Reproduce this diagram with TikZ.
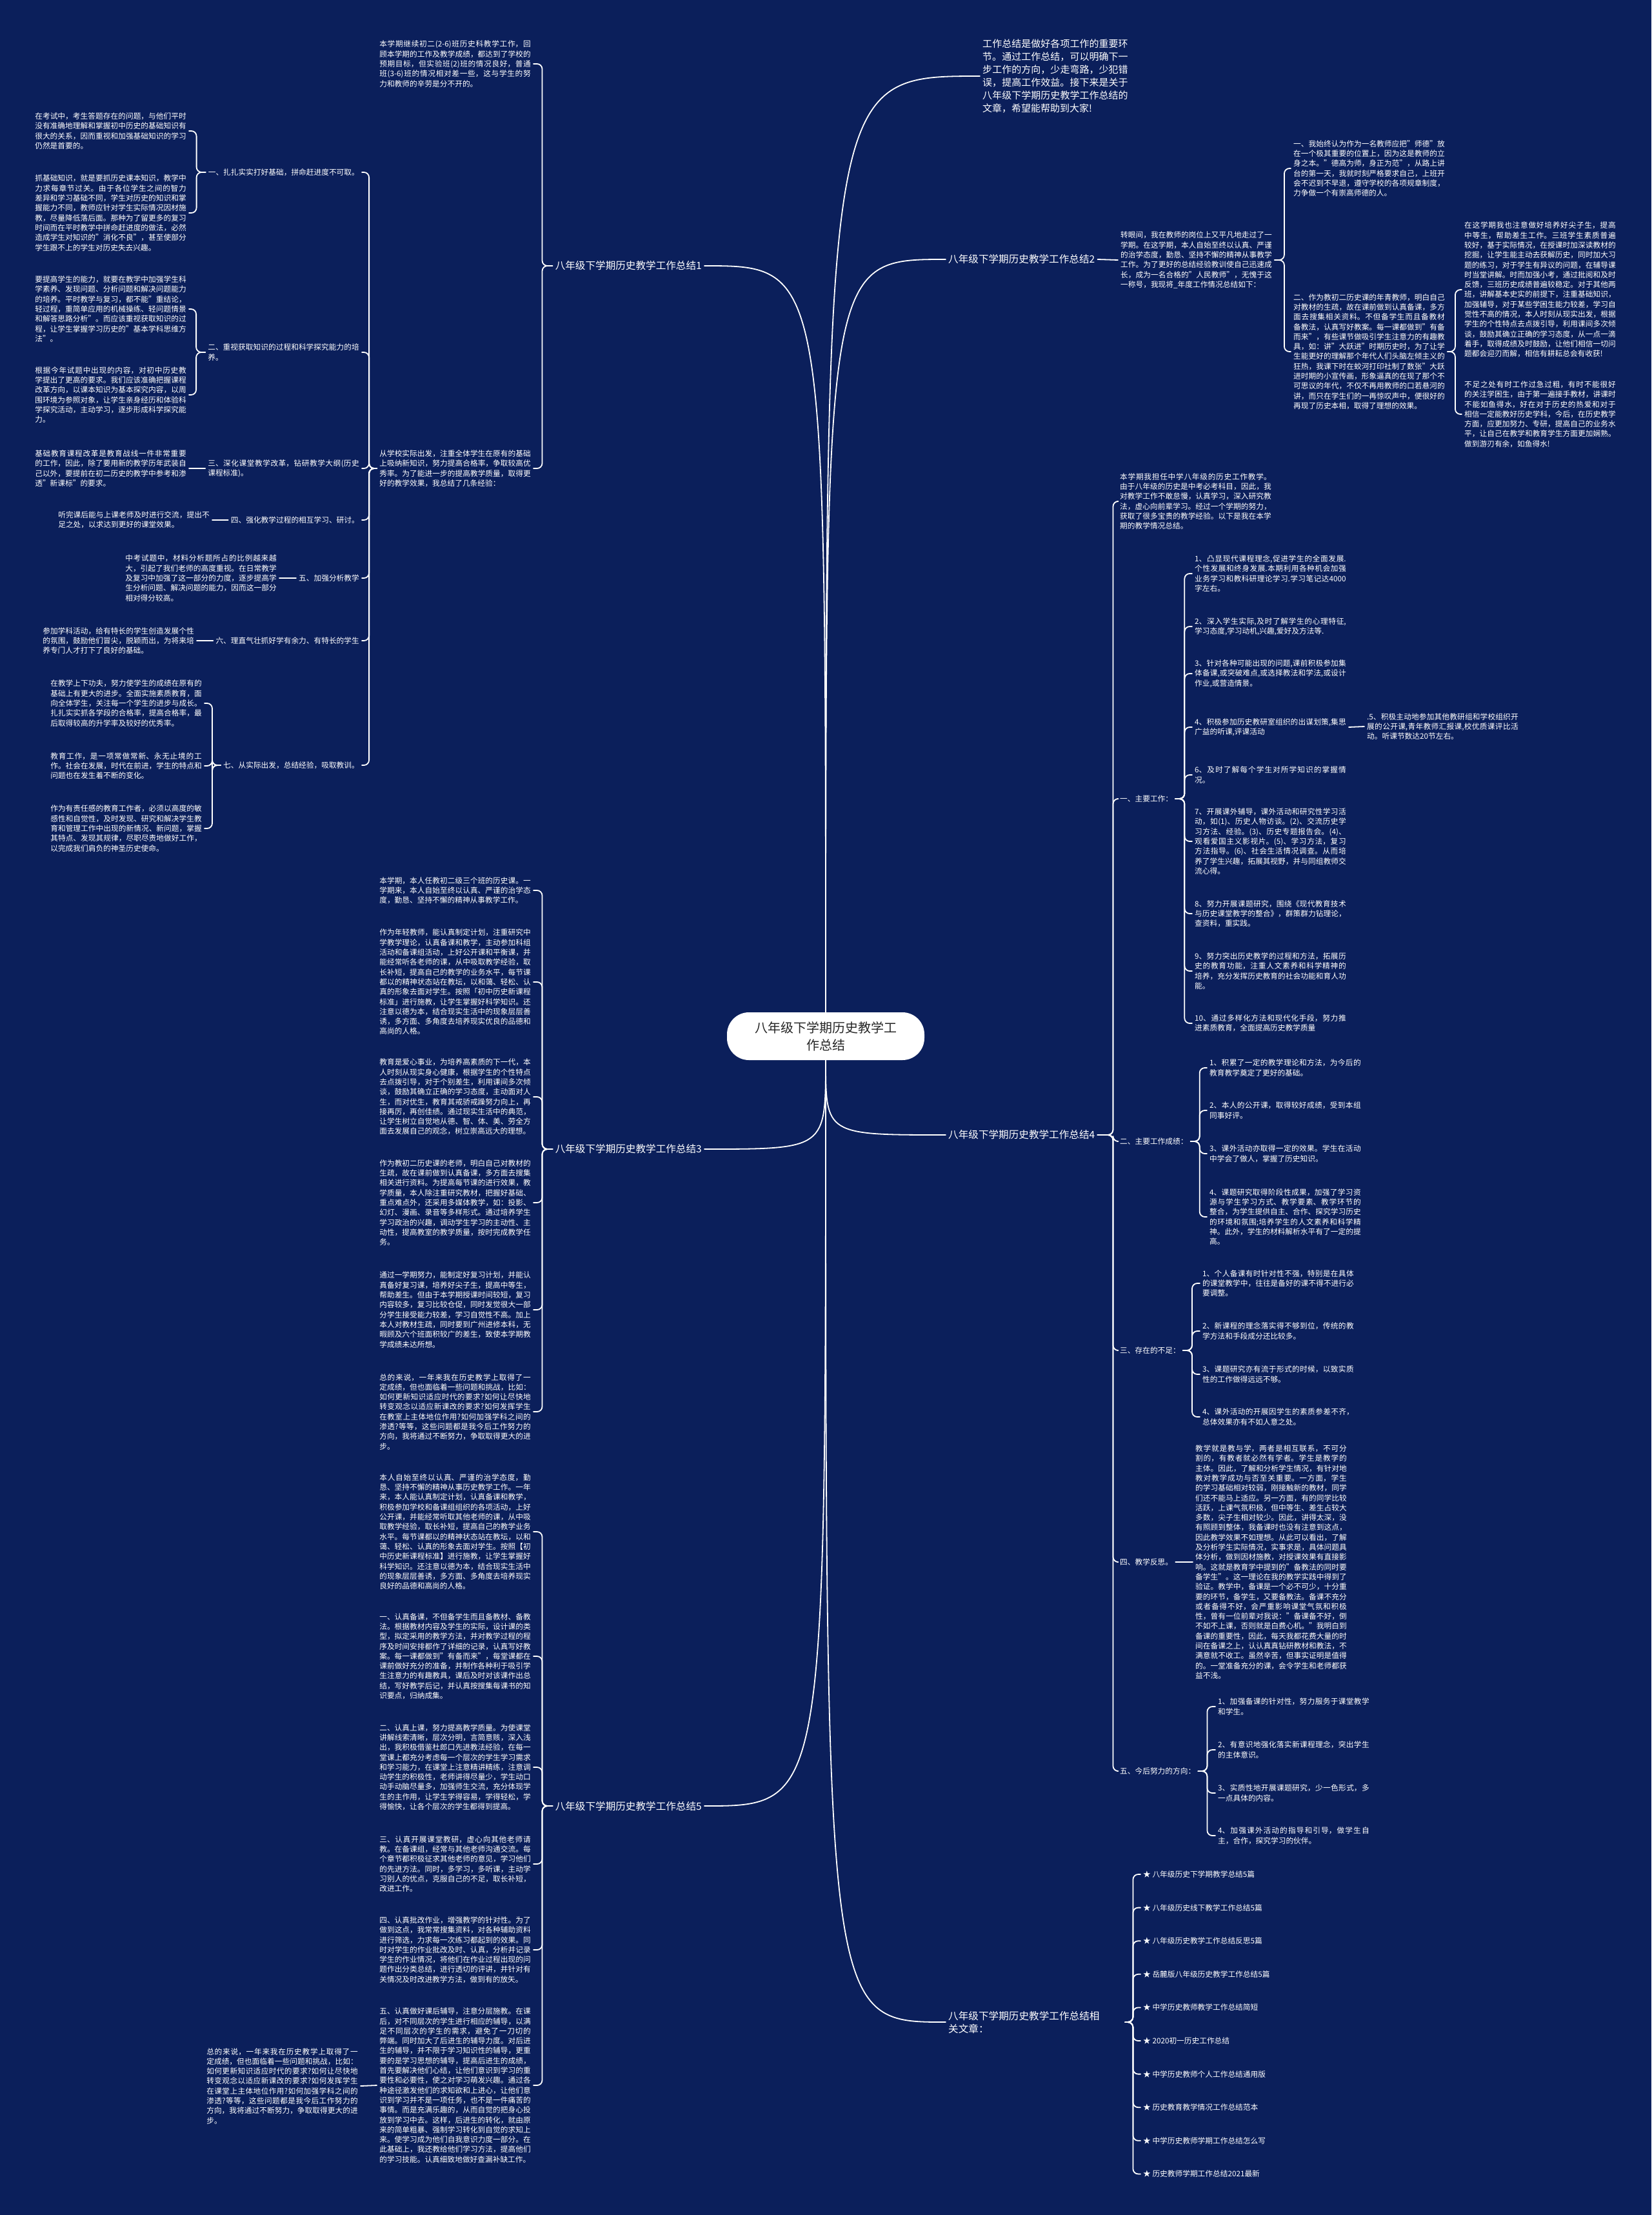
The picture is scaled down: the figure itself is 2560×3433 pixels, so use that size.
\documentclass[tikz,border=0pt]{standalone}
\usepackage{fontspec}
\setmainfont{Noto Sans CJK SC}
\XeTeXlinebreaklocale "zh"
\XeTeXlinebreakskip=0pt plus 1pt
\definecolor{bgnavy}{HTML}{0B1F5B}
\definecolor{inkgray}{HTML}{262626}
\tikzset{
  txt/.style={text=white, align=justify, text width=234.5pt, inner xsep=4pt, inner ysep=0pt, font=\fontsize{11.7}{15.3}\selectfont},
  tag/.style={text=white, inner xsep=4pt, inner ysep=0pt, font=\fontsize{11.7}{15.3}\selectfont},
  head/.style={text=white, inner xsep=4pt, inner ysep=0pt, font=\fontsize{15.6}{20}\selectfont},
  link/.style={draw=white, line width=1.8pt, rounded corners=8pt},
}
\begin{document}
\begin{tikzpicture}[x=1pt,y=-1pt, line cap=round, line join=round]
\fill[bgnavy] (0,0) rectangle (2560,3433);
\useasboundingbox (0,0) rectangle (2560,3433);
% centre
\node[fill=white, rounded corners=34pt, minimum width=306pt, minimum height=74pt, text=inkgray, align=center, font=\fontsize{20}{27}\selectfont] (c) at (1280,1606) {八年级下学期历史教学工\\作总结};
% branch labels
\node[head, anchor=east] (b1) at (1092,412) {八年级下学期历史教学工作总结1};
\node[head, anchor=west] (b2) at (1466,402) {八年级下学期历史教学工作总结2};
\node[head, anchor=east] (b3) at (1092,1781) {八年级下学期历史教学工作总结3};
\node[head, anchor=west] (b4) at (1466,1759) {八年级下学期历史教学工作总结4};
\node[head, anchor=east] (b5) at (1092,2799) {八年级下学期历史教学工作总结5};
\node[head, anchor=west, align=left, text width=235pt] (rel) at (1466,3134) {八年级下学期历史教学工作总结相关文章：};
\node[txt, anchor=west, text width=225.5pt, font=\fontsize{15}{20}\selectfont] (intro) at (1519,118) {工作总结是做好各项工作的重要环节。通过工作总结，可以明确下一步工作的方向，少走弯路，少犯错误，提高工作效益。接下来是关于八年级下学期历史教学工作总结的文章，希望能帮助到大家!};
\foreach \n in {b1} \draw[link] (c.north) .. controls (c.north |- \n.east) .. (\n.east);
\foreach \n in {b2,intro} \draw[link] (c.north) .. controls (c.north |- \n.west) .. (\n.west);
\foreach \n in {b3,b5} \draw[link] (c.south) .. controls (c.south |- \n.east) .. (\n.east);
\foreach \n in {b4,rel} \draw[link] (c.south) .. controls (c.south |- \n.west) .. (\n.west);

% ---- branch 1
\node[txt, anchor=east] (b1a) at (827,99) {本学期继续初二(2-6)班历史科教学工作，回顾本学期的工作及教学成绩，都达到了学校的预期目标，但实验班(2)班的情况良好，普通班(3-6)班的情况相对差一些，这与学生的努力和教师的辛劳是分不开的。};
\node[txt, anchor=east] (b1b) at (827,726) {从学校实际出发，注重全体学生在原有的基础上吸纳新知识，努力提高合格率，争取较高优秀率。为了能进一步的提高教学质量，取得更好的教学效果，我总结了几条经验：};
\node[tag, anchor=east] (i1) at (561,267) {一、扎扎实实打好基础，拼命赶进度不可取。};
\node[txt, anchor=east] (i2) at (561,546) {二、重视获取知识的过程和科学探究能力的培养。};
\node[txt, anchor=east] (i3) at (561,726) {三、深化课堂教学改革，钻研教学大纲(历史课程标准)。};
\node[tag, anchor=east] (i4) at (561,806) {四、强化教学过程的相互学习、研讨。};
\node[tag, anchor=east] (i5) at (561,896) {五、加强分析教学};
\node[tag, anchor=east] (i6) at (561,993) {六、理直气壮抓好学有余力、有特长的学生};
\node[tag, anchor=east] (i7) at (561,1186) {七、从实际出发，总结经验，吸取教训。};
\node[txt, anchor=east] (l11) at (293,203) {在考试中，考生答题存在的问题，与他们平时没有准确地理解和掌握初中历史的基础知识有很大的关系，因而重视和加强基础知识的学习仍然是首要的。};
\node[txt, anchor=east] (l12) at (293,330) {抓基础知识，就是要抓历史课本知识，教学中力求每章节过关。由于各位学生之间的智力差异和学习基础不同，学生对历史的知识和掌握能力不同，教师应针对学生实际情况因材施教，尽量降低落后面。那种为了留更多的复习时间而在平时教学中拼命赶进度的做法，必然造成学生对知识的"消化不良"，甚至使部分学生跟不上的学生对历史失去兴趣。};
\node[txt, anchor=east] (l21) at (293,479) {要提高学生的能力，就要在教学中加强学生科学素养、发现问题、分析问题和解决问题能力的培养。平时教学与复习，都不能"重结论，轻过程，重简单应用的机械操练、轻问题情景和解答思路分析"。而应该重视获取知识的过程，让学生掌握学习历史的"基本学科思维方法"。};
\node[txt, anchor=east] (l22) at (293,612) {根据今年试题中出现的内容，对初中历史教学提出了更高的要求。我们应该准确把握课程改革方向，以课本知识为基本探究内容，以周围环境为参照对象，让学生亲身经历和体验科学探究活动，主动学习，逐步形成科学探究能力。};
\node[txt, anchor=east] (l3) at (293,726) {基础教育课程改革是教育战线一件非常重要的工作，因此，除了要用新的教学历年武装自己以外，要提前在初二历史的教学中参考和渗透"新课标"的要求。};
\node[txt, anchor=east] (l4) at (329,806) {听完课后能与上课老师及时进行交流，提出不足之处，以求达到更好的课堂效果。};
\node[txt, anchor=east] (l5) at (433,896) {中考试题中，材料分析题所占的比例越来越大，引起了我们老师的高度重视。在日常教学及复习中加强了这一部分的力度，逐步提高学生分析问题、解决问题的能力，因而这一部分相对得分较高。};
\node[txt, anchor=east] (l6) at (305,993) {参加学科活动，给有特长的学生创造发展个性的氛围，鼓励他们冒尖，脱颖而出，为将来培养专门人才打下了良好的基础。};
\node[txt, anchor=east] (l71) at (317,1090) {在教学上下功夫，努力使学生的成绩在原有的基础上有更大的进步。全面实施素质教育，面向全体学生，关注每一个学生的进步与成长。扎扎实实抓各学段的合格率，提高合格率，最后取得较高的升学率及较好的优秀率。};
\node[txt, anchor=east] (l72) at (317,1187) {教育工作，是一项常做常新、永无止境的工作。社会在发展，时代在前进，学生的特点和问题也在发生着不断的变化。};
\node[txt, anchor=east] (l73) at (317,1284) {作为有责任感的教育工作者，必须以高度的敏感性和自觉性，及时发现、研究和解决学生教育和管理工作中出现的新情况、新问题，掌握其特点、发现其规律，尽职尽责地做好工作，以完成我们肩负的神圣历史使命。};
\foreach \n in {b1a,b1b} \draw[link] (b1.west) -- ++(-16,0) |- (\n.east);
\foreach \n in {i1,i2,i3,i4,i5,i6,i7} \draw[link] (b1b.west) -- ++(-12,0) |- (\n.east);
\foreach \n in {l11,l12} \draw[link] (i1.west) -- ++(-14,0) |- (\n.east);
\foreach \n in {l21,l22} \draw[link] (i2.west) -- ++(-14,0) |- (\n.east);
\foreach \a/\b in {i3/l3,i4/l4,i5/l5,i6/l6} \draw[link] (\a.west) -- (\b.east);
\foreach \n in {l71,l72,l73} \draw[link] (i7.west) -- ++(-13,0) |- (\n.east);

% ---- branch 3
\node[txt, anchor=east] (b3a) at (827,1380) {本学期，本人任教初二级三个班的历史课。一学期来，本人自始至终以认真、严谨的治学态度，勤恳、坚持不懈的精神从事教学工作。};
\node[txt, anchor=east] (b3b) at (827,1522) {作为年轻教师，能认真制定计划，注重研究中学教学理论，认真备课和教学，主动参加科组活动和备课组活动，上好公开课和平衡课，并能经常听各老师的课，从中吸取教学经验，取长补短，提高自己的教学的业务水平，每节课都以的精神状态站在教坛，以和蔼、轻松、认真的形象去面对学生。按照「初中历史新课程标准」进行施教，让学生掌握好科学知识。还注意以德为本，结合现实生活中的现象层层善诱，多方面、多角度去培养现实优良的品德和高尚的人格。};
\node[txt, anchor=east] (b3c) at (827,1700) {教育是爱心事业，为培养高素质的下一代，本人时刻从现实身心健康，根据学生的个性特点去点拨引导，对于个别差生，利用课间多次倾谈，鼓励其确立正确的学习态度，主动面对人生，而对优生，教育其戒骄戒躁努力向上，再接再厉，再创佳绩。通过现实生活中的典范，让学生树立自觉地从德、智、体、美、劳全方面去发展自己的观念，树立崇高远大的理想。};
\node[txt, anchor=east] (b3d) at (827,1864) {作为教初二历史课的老师，明白自己对教材的生疏，故在课前做到认真备课，多方面去搜集相关进行资料。为提高每节课的进行效果，教学质量，本人除注重研究教材，把握好基础、重点难点外，还采用多媒体教学，如：投影、幻灯、漫画、录音等多样形式。通过培养学生学习政治的兴趣，调动学生学习的主动性、主动性，提高教室的教学质量，按时完成教学任务。};
\node[txt, anchor=east] (b3e) at (827,2030) {通过一学期努力，能制定好复习计划，并能认真备好复习课，培养好尖子生，提高中等生，帮助差生。但由于本学期授课时间较短，复习内容较多，复习比较仓促，同时发觉很大一部分学生接受能力较差，学习自觉性不高。加上本人对教材生疏，同时要到广州进修本科，无暇顾及六个班面积较广的差生，致使本学期教学成绩未达所想。};
\node[txt, anchor=east] (b3f) at (827,2188) {总的来说，一年来我在历史教学上取得了一定成绩，但也面临着一些问题和挑战，比如：如何更新知识适应时代的要求?如何让尽快地转变观念以适应新课改的要求?如何发挥学生在教室上主体地位作用?如何加强学科之间的渗透?等等，这些问题都是我今后工作努力的方向，我将通过不断努力，争取取得更大的进步。};
\foreach \n in {b3a,b3b,b3c,b3d,b3e,b3f} \draw[link] (b3.west) -- ++(-16,0) |- (\n.east);

% ---- branch 5
\node[txt, anchor=east] (b5a) at (827,2374) {本人自始至终以认真、严谨的治学态度，勤恳、坚持不懈的精神从事历史教学工作。一年来，本人能认真制定计划，认真备课和教学，积极参加学校和备课组组织的各项活动，上好公开课，并能经常听取其他老师的课，从中吸取教学经验，取长补短，提高自己的教学业务水平。每节课都以的精神状态站在教坛，以和蔼、轻松、认真的形象去面对学生。按照【初中历史新课程标准】进行施教，让学生掌握好科学知识。还注意以德为本，结合现实生活中的现象层层善诱，多方面、多角度去培养现实良好的品德和高尚的人格。};
\node[txt, anchor=east] (b5b) at (827,2567) {一、认真备课，不但备学生而且备教材、备教法。根据教材内容及学生的实际，设计课的类型，拟定采用的教学方法，并对教学过程的程序及时间安排都作了详细的记录，认真写好教案。每一课都做到"有备而来"，每堂课都在课前做好充分的准备，并制作各种利于吸引学生注意力的有趣教具，课后及时对该课作出总结，写好教学后记，并认真按搜集每课书的知识要点，归纳成集。};
\node[txt, anchor=east] (b5c) at (827,2739) {二、认真上课，努力提高教学质量。为使课堂讲解线索清晰，层次分明，言简意赅，深入浅出，我积极借鉴杜郎口先进教法经验，在每一堂课上都充分考虑每一个层次的学生学习需求和学习能力，在课堂上注意精讲精练，注意调动学生的积极性，老师讲得尽量少，学生动口动手动脑尽量多，加强师生交流，充分体现学生的主作用，让学生学得容易，学得轻松，学得愉快，让各个层次的学生都得到提高。};
\node[txt, anchor=east] (b5d) at (827,2889) {三、认真开展课堂教研，虚心向其他老师请教。在备课组，经常与其他老师沟通交流。每个章节都积极征求其他老师的意见，学习他们的先进方法。同时，多学习，多听课，主动学习别人的优点，克服自己的不足，取长补短，改进工作。};
\node[txt, anchor=east] (b5e) at (827,3022) {四、认真批改作业，增强教学的针对性。为了做到这点，我常常搜集资料，对各种辅助资料进行筛选，力求每一次练习都起到的效果。同时对学生的作业批改及时、认真，分析并记录学生的作业情况，将他们在作业过程出现的问题作出分类总结，进行透切的评讲，并针对有关情况及时改进教学方法，做到有的放矢。};
\node[txt, anchor=east] (b5f) at (827,3232) {五、认真做好课后辅导，注意分层施教。在课后，对不同层次的学生进行相应的辅导，以满足不同层次的学生的需求，避免了一刀切的弊端。同时加大了后进生的辅导力度。对后进生的辅导，并不限于学习知识性的辅导，更重要的是学习思想的辅导，提高后进生的成绩，首先要解决他们心结，让他们意识到学习的重要性和必要性，使之对学习萌发兴趣。通过各种途径激发他们的求知欲和上进心，让他们意识到学习并不是一项任务，也不是一件痛苦的事情。而是充满乐趣的，从而自觉的把身心投放到学习中去。这样，后进生的转化，就由原来的简单粗暴、强制学习转化到自觉的求知上来。使学习成为他们自我意识力度一部分。在此基础上，我还教给他们学习方法，提高他们的学习技能。认真细致地做好查漏补缺工作。};
\node[txt, anchor=east] (b5g) at (559,3233) {总的来说，一年来我在历史教学上取得了一定成绩，但也面临着一些问题和挑战，比如：如何更新知识适应时代的要求?如何让尽快地转变观念以适应新课改的要求?如何发挥学生在课堂上主体地位作用?如何加强学科之间的渗透?等等，这些问题都是我今后工作努力的方向，我将通过不断努力，争取取得更大的进步。};
\foreach \n in {b5a,b5b,b5c,b5d,b5e,b5f} \draw[link] (b5.west) -- ++(-16,0) |- (\n.east);
\draw[link] (b5f.west) -- (b5g.east);

% ---- branch 2
\node[txt, anchor=west] (b2a) at (1733,403) {转眼间，我在教师的岗位上又平凡地走过了一学期。在这学期，本人自始至终以认真、严谨的治学态度，勤恳、坚持不懈的精神从事教学工作。为了更好的总结经验教训使自己迅速成长，成为一名合格的"人民教师"，无愧于这一称号，我现将\_年度工作情况总结如下：};
\node[txt, anchor=west] (b2b) at (2001,261) {一、我始终认为作为一名教师应把"师德"放在一个极其重要的位置上，因为这是教师的立身之本。"德高为师，身正为范"，从路上讲台的第一天，我就时刻严格要求自己，上班开会不迟到不早退，遵守学校的各项规章制度，力争做一个有崇高师德的人。};
\node[txt, anchor=west] (b2c) at (2001,545) {二、作为教初二历史课的年青教师，明白自己对教材的生疏，故在课前做到认真备课，多方面去搜集相关资料。不但备学生而且备教材备教法，认真写好教案。每一课都做到"有备而来"，有些课节做吸引学生注意力的有趣教具，如：讲"大跃进"时期历史时，为了让学生能更好的理解那个年代人们头脑左倾主义的狂热，我课下时在蛟河打印社制了数张"大跃进时期的小宣传画，形象逼真的在现了那个不可思议的年代，不仅不再用教师的口若悬河的讲，而只在学生们的一再惊叹声中，便很好的再现了历史本相，取得了理想的效果。};
\node[txt, anchor=west] (b2d) at (2266,449) {在这学期我也注意做好培养好尖子生，提高中等生，帮助差生工作。三班学生素质普遍较好，基于实际情况，在授课时加深读教材的挖掘，让学生能主动去获解历史，同时加大习题的练习，对于学生有异议的问题，在辅导课时当堂讲解。时而加强小考，通过批阅和及时反馈，三班历史成绩普遍较稳定。对于其他两班，讲解基本史实的前提下，注重基础知识，加强辅导，对于某些学困生能力较差，学习自觉性不高的情况，本人时刻从现实出发，根据学生的个性特点去点拨引导，利用课间多次倾谈，鼓励其确立正确的学习态度，从一点一滴着手，取得成绩及时鼓励，让他们相信一切问题都会迎刃而解，相信有耕耘总会有收获!};
\node[txt, anchor=west] (b2e) at (2266,642) {不足之处有时工作过急过粗，有时不能很好的关注学困生，由于第一遍接手教材，讲课时不能如鱼得水，好在对于历史的热爱和对于相信一定能教好历史学科，今后，在历史教学方面，应更加努力、专研，提高自己的业务水平，让自己在教学和教育学生方面更加娴熟。做到游刃有余，如鱼得水!};
\draw[link] (b2.east) -- (b2a.west);
\foreach \n in {b2b,b2c} \draw[link] (b2a.east) -- ++(15,0) |- (\n.west);
\foreach \n in {b2d,b2e} \draw[link] (b2c.east) -- ++(12,0) |- (\n.west);

% ---- branch 4
\node[txt, anchor=west] (b4a) at (1732,777) {本学期我担任中学八年级的历史工作教学。由于八年级的历史是中考必考科目，因此，我对教学工作不敢怠慢，认真学习，深入研究教法，虚心向前辈学习。经过一个学期的努力，获取了很多宝贵的教学经验。以下是我在本学期的教学情况总结。};
\node[tag, anchor=west] (b4b) at (1732,1238) {一、主要工作：};
\node[tag, anchor=west] (b4c) at (1732,1769) {二、主要工作成绩：};
\node[tag, anchor=west] (b4d) at (1732,2093) {三、存在的不足：};
\node[tag, anchor=west] (b4e) at (1732,2421) {四、教学反思。};
\node[tag, anchor=west] (b4f) at (1732,2745) {五、今后努力的方向：};
\foreach \n in {b4a,b4b,b4c,b4d,b4e,b4f} \draw[link] (b4.east) -- ++(24,0) |- (\n.west);
% main work
\node[txt, anchor=west] (w1) at (1848,889) {1、凸显现代课程理念,促进学生的全面发展.个性发展和终身发展.本期利用各种机会加强业务学习和教科研理论学习.学习笔记达4000字左右。};
\node[txt, anchor=west] (w2) at (1848,971) {2、深入学生实际,及时了解学生的心理特征,学习态度,学习动机,兴趣,爱好及方法等.};
\node[txt, anchor=west] (w3) at (1848,1044) {3、针对各种可能出现的问题,课前积极参加集体备课,或突破难点,或选择教法和学法,或设计作业,或营造情景。};
\node[txt, anchor=west] (w4) at (1848,1127) {4、积极参加历史教研室组织的出谋划策,集思广益的听课,评课活动};
\node[txt, anchor=west] (w5) at (2115,1126) {.5、积极主动地参加其他教研组和学校组织开展的公开课,青年教师汇报课,校优质课评比活动。听课节数达20节左右。};
\node[txt, anchor=west] (w6) at (1848,1201) {6、及时了解每个学生对所学知识的掌握情况。};
\node[txt, anchor=west] (w7) at (1848,1304) {7、开展课外辅导，课外活动和研究性学习活动，如(1)、历史人物访谈。(2)、交流历史学习方法、经验。(3)、历史专题报告会。(4)、观看爱国主义影视片。(5)、学习方法，复习方法指导。(6)、社会生活情况调查。从而培养了学生兴趣，拓展其视野，并与同组教师交流心得。};
\node[txt, anchor=west] (w8) at (1848,1416) {8、努力开展课题研究，围绕《现代教育技术与历史课堂教学的整合》，群策群力钻理论，查资料，重实践。};
\node[txt, anchor=west] (w9) at (1848,1505) {9、努力突出历史教学的过程和方法，拓展历史的教育功能，注重人文素养和科学精神的培养，充分发挥历史教育的社会功能和育人功能。};
\node[txt, anchor=west] (w10) at (1848,1586) {10、通过多样化方法和现代化手段，努力推进素质教育，全面提高历史教学质量};
\foreach \n in {w1,w2,w3,w4,w6,w7,w8,w9,w10} \draw[link] (b4b.east) -- ++(14,0) |- (\n.west);
\draw[link] (w4.east) -- (w5.west);
% results
\node[txt, anchor=west] (g1) at (1871,1655) {1、积累了一定的教学理论和方法，为今后的教育教学奠定了更好的基础。};
\node[txt, anchor=west] (g2) at (1871,1721) {2、本人的公开课，取得较好成绩，受到本组同事好评。};
\node[txt, anchor=west] (g3) at (1871,1788) {3、课外活动亦取得一定的效果。学生在活动中学会了做人，掌握了历史知识。};
\node[txt, anchor=west] (g4) at (1871,1886) {4、课题研究取得阶段性成果，加强了学习资源与学生学习方式、教学要素、教学环节的整合，为学生提供自主、合作、探究学习历史的环境和氛围;培养学生的人文素养和科学精神。此外，学生的材料解析水平有了一定的提高。};
\foreach \n in {g1,g2,g3,g4} \draw[link] (b4c.east) -- ++(14,0) |- (\n.west);
% shortcomings
\node[txt, anchor=west] (d1) at (1860,1989) {1、个人备课有时针对性不强，特别是在具体的课堂教学中，往往是备好的课不得不进行必要调整。};
\node[txt, anchor=west] (d2) at (1860,2063) {2、新课程的理念落实得不够到位，传统的教学方法和手段成分还比较多。};
\node[txt, anchor=west] (d3) at (1860,2130) {3、课题研究亦有流于形式的时候，以致实质性的工作做得远远不够。};
\node[txt, anchor=west] (d4) at (1860,2196) {4、课外活动的开展因学生的素质参差不齐，总体效果亦有不如人意之处。};
\foreach \n in {d1,d2,d3,d4} \draw[link] (b4d.east) -- ++(14,0) |- (\n.west);
% reflection
\node[txt, anchor=west] (b4r) at (1849,2421) {教学就是教与学，两者是相互联系，不可分割的，有教者就必然有学者。学生是教学的主体。因此，了解和分析学生情况，有针对地教对教学成功与否至关重要。一方面，学生的学习基础相对较弱，刚接触新的教材，同学们还不能马上适应。另一方面，有的同学比较活跃，上课气氛积极，但中等生、差生占较大多数，尖子生相对较少。因此，讲得太深，没有照顾到整体，我备课时也没有注意到这点，因此教学效果不如理想。从此可以看出，了解及分析学生实际情况，实事求是，具体问题具体分析，做到因材施教，对授课效果有直接影响。这就是教育学中提到的"备教法的同时要备学生"。这一理论在我的教学实践中得到了验证。教学中，备课是一个必不可少，十分重要的环节，备学生，又要备教法。备课不充分或者备得不好，会严重影响课堂气氛和积极性，曾有一位前辈对我说："备课备不好，倒不如不上课，否则就是白费心机。"我明白到备课的重要性，因此，每天我都花费大量的时间在备课之上，认认真真钻研教材和教法，不满意就不收工。虽然辛苦，但事实证明是值得的。一堂准备充分的课，会令学生和老师都获益不浅。};
\draw[link] (b4e.east) -- (b4r.west);
% directions
\node[txt, anchor=west] (f1) at (1884,2645) {1、加强备课的针对性，努力服务于课堂教学和学生。};
\node[txt, anchor=west] (f2) at (1884,2712) {2、有意识地强化落实新课程理念，突出学生的主体意识。};
\node[txt, anchor=west] (f3) at (1884,2779) {3、实质性地开展课题研究，少一色形式，多一点具体的内容。};
\node[txt, anchor=west] (f4) at (1884,2845) {4、加强课外活动的指导和引导，做学生自主，合作，探究学习的伙伴。};
\foreach \n in {f1,f2,f3,f4} \draw[link] (b4f.east) -- ++(14,0) |- (\n.west);

% ---- related articles
\foreach \t [count=\k from 1] in {八年级历史下学期教学总结5篇,八年级历史线下教学工作总结5篇,八年级历史教学工作总结反思5篇,岳麓版八年级历史教学工作总结5篇,中学历史教师教学工作总结简短,2020初一历史工作总结,中学历史教师个人工作总结通用版,历史教育教学情况工作总结范本,中学历史教师学期工作总结怎么写,历史教师学期工作总结2021最新}{
  \node[tag, anchor=west] (r\k) at (1768,{2905+51.6*(\k-1)}) {★ \t};
}
\foreach \k in {1,...,10} \draw[link] ([xshift=35pt]rel.east) -- ++(12,0) |- (r\k.west);
\end{tikzpicture}
\end{document}
